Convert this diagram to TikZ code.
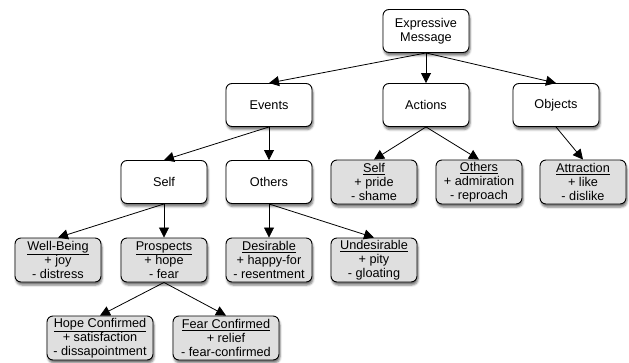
\documentclass[tikz,border=0pt]{standalone}
\usepackage{fontspec}
\setmainfont{Liberation Sans}
\usepackage{tikz}
\usetikzlibrary{arrows.meta,shadows.blur}
\tikzset{
  catbox/.style={ draw, line width=0.9pt, rounded corners=6pt, fill=white, minimum width=86pt, minimum height=43pt, align=center, font=\fontsize{12.7}{14}\selectfont, blur shadow={shadow xshift=1pt, shadow yshift=-3pt, shadow opacity=55} }
}
\tikzset{
  leafbox/.style={ catbox, fill=gray!25, minimum height=44pt, inner sep=1pt }
}
\tikzset{
  wideleaf/.style={ leafbox, minimum width=106pt }
}
\tikzset{
  arr/.style={ -{Triangle[length=10pt,width=10pt]}, line width=0.8pt }
}

\begin{document}
\begin{tikzpicture}[x=1pt, y=-1pt]
      \useasboundingbox (0,0) rectangle (629,362);
      \node[catbox] (msg) at (426, 31) {Expressive\\Message};
      \node[catbox] (events) at (269, 105) {Events};
      \node[catbox] (actions) at (426, 105) {Actions};
      \node[catbox] (objects) at (556, 105) {Objects};
      \draw[arr] (msg.south) -- (events.north);
      \draw[arr] (msg.south) -- (actions.north);
      \draw[arr] (msg.south) -- (objects.north);

      \node[catbox] (evself) at (164, 182) {Self};
      \node[catbox] (evothers) at (269, 182) {Others};
      \node[leafbox] (acself) at (374, 182) {\underline{Self}\\+ pride\\- shame};
      \node[leafbox] (acothers) at (479, 182) {\underline{Others}\\+ admiration\\- reproach};
      \node[leafbox] (attract) at (583, 182) {\underline{Attraction}\\+ like\\- dislike};
      \draw[arr] (events.south) -- (evself.north);
      \draw[arr] (events.south) -- (evothers.north);
      \draw[arr] (actions.south) -- (acself.north);
      \draw[arr] (actions.south) -- (acothers.north);
      \draw[arr] (objects.south) -- (attract.north);

      \node[leafbox] (wellbeing) at (58, 260) {\underline{Well-Being}\\+ joy\\- distress};
      \node[leafbox] (prospects) at (164, 260) {\underline{Prospects}\\+ hope\\- fear};
      \node[leafbox] (desirable) at (269, 260) {\underline{Desirable}\\+ happy-for\\- resentment};
      \node[leafbox] (undesirable) at (374, 260) {\underline{Undesirable}\\+ pity\\- gloating};
      \draw[arr] (evself.south) -- (wellbeing.north);
      \draw[arr] (evself.south) -- (prospects.north);
      \draw[arr] (evothers.south) -- (desirable.north);
      \draw[arr] (evothers.south) -- (undesirable.north);

      \node[wideleaf] (hopeconf) at (100, 338) {\underline{Hope Confirmed}\\+ satisfaction\\- dissapointment};
      \node[wideleaf] (fearconf) at (226, 338) {\underline{Fear Confirmed}\\+ relief\\- fear-confirmed};
      \draw[arr] (prospects.south) -- (hopeconf.north);
      \draw[arr] (prospects.south) -- (fearconf.north);
\end{tikzpicture}
\end{document}
